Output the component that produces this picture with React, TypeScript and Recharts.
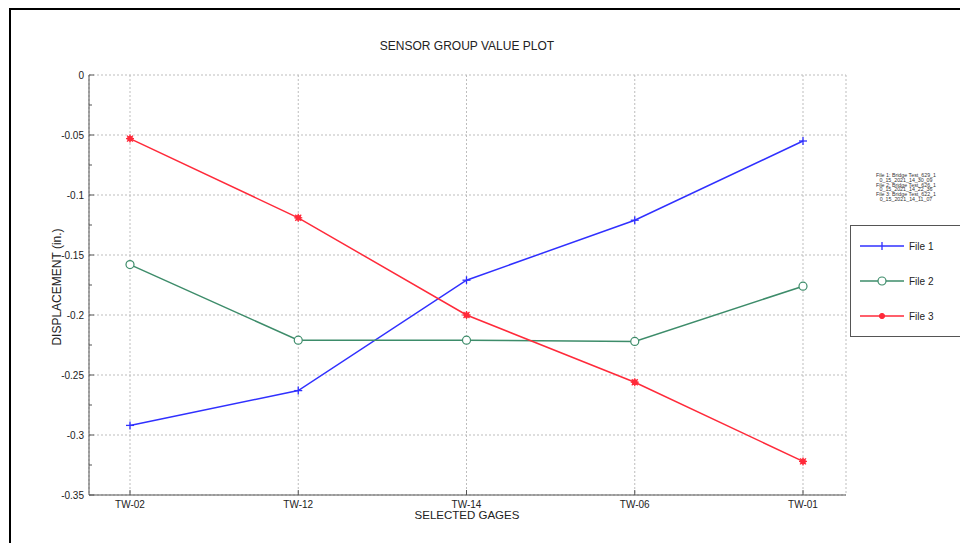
import React from 'react';
import { LineChart, Line, XAxis, YAxis, CartesianGrid } from 'recharts';

const categories = ['TW-02', 'TW-12', 'TW-14', 'TW-06', 'TW-01'];
const file1 = [-0.292, -0.263, -0.171, -0.121, -0.055];
const file2 = [-0.158, -0.221, -0.221, -0.222, -0.176];
const file3 = [-0.053, -0.119, -0.2, -0.256, -0.322];
const majorTicks = [0, -0.05, -0.1, -0.15, -0.2, -0.25, -0.3, -0.35];
const allTicks = [0, -0.025, -0.05, -0.075, -0.1, -0.125, -0.15, -0.175, -0.2, -0.225, -0.25, -0.275, -0.3, -0.325, -0.35];
const fileNotes = [
  'File 1: Bridge Test_629_1',
  '0_15_2021_14_30_09',
  'File 2: Bridge Test_626_1',
  '0_15_2021_14_22_36',
  'File 3: Bridge Test_622_1',
  '0_15_2021_14_11_07',
];
const seriesNames = ['File 1', 'File 2', 'File 3'];

const data = categories.map((c, i) => ({ name: c, file1: file1[i], file2: file2[i], file3: file3[i] }));

const BLUE = '#3030ff';
const GREEN = '#3d8c6a';
const RED = '#ff2a3a';
const AXIS = '#555';
const FONT = '"Liberation Sans", Arial, sans-serif';

const isMajor = (v: number) => majorTicks.some((m) => Math.abs(m - v) < 1e-9);

const LeftTick = (props: any) => {
  const { x, y, payload } = props;
  const major = isMajor(payload.value);
  const ax = x + 4;
  return (
    <g>
      <line x1={ax} y1={y} x2={ax + (major ? 5 : 3)} y2={y} stroke={AXIS} strokeWidth={1} />
      {major && (
        <text x={x - 1} y={y} dy={3.5} textAnchor="end" fontSize={10} fill="#222" fontFamily={FONT}>
          {String(payload.value)}
        </text>
      )}
    </g>
  );
};

const RightTick = (props: any) => {
  const { x, y, payload } = props;
  const major = isMajor(payload.value);
  return <line x1={x} y1={y} x2={x - (major ? 5 : 3)} y2={y} stroke={AXIS} strokeWidth={1} />;
};

const BottomTick = (props: any) => {
  const { x, y, payload } = props;
  return (
    <g>
      <line x1={x} y1={y - 4} x2={x} y2={y - 9} stroke={AXIS} strokeWidth={1} />
      <text x={x} y={y} dy={9} textAnchor="middle" fontSize={10} fill="#222" fontFamily={FONT}>
        {payload.value}
      </text>
    </g>
  );
};

const TopTick = (props: any) => {
  const { x, y } = props;
  return <line x1={x} y1={y} x2={x} y2={y + 5} stroke={AXIS} strokeWidth={1} />;
};

const PlusDot = (props: any) => {
  const { cx, cy } = props;
  if (cx == null || cy == null) return null;
  return (
    <g>
      <line x1={cx - 4} y1={cy} x2={cx + 4} y2={cy} stroke={BLUE} strokeWidth={1.3} />
      <line x1={cx} y1={cy - 4} x2={cx} y2={cy + 4} stroke={BLUE} strokeWidth={1.3} />
    </g>
  );
};

const CircleDot = (props: any) => {
  const { cx, cy } = props;
  if (cx == null || cy == null) return null;
  return <circle cx={cx} cy={cy} r={4} fill="white" stroke={GREEN} strokeWidth={1.2} />;
};

const StarDot = (props: any) => {
  const { cx, cy } = props;
  if (cx == null || cy == null) return null;
  return (
    <g stroke={RED} strokeWidth={1.3}>
      <line x1={cx - 4} y1={cy} x2={cx + 4} y2={cy} />
      <line x1={cx} y1={cy - 4} x2={cx} y2={cy + 4} />
      <line x1={cx - 3} y1={cy - 3} x2={cx + 3} y2={cy + 3} />
      <line x1={cx - 3} y1={cy + 3} x2={cx + 3} y2={cy - 3} />
      <circle cx={cx} cy={cy} r={2.2} fill={RED} />
    </g>
  );
};

const legendMarkers = [
  (x: number, y: number) => (
    <g>
      <line x1={x} y1={y - 4} x2={x} y2={y + 4} stroke={BLUE} strokeWidth={1.3} />
    </g>
  ),
  (x: number, y: number) => <circle cx={x} cy={y} r={4} fill="white" stroke={GREEN} strokeWidth={1.2} />,
  (x: number, y: number) => <circle cx={x} cy={y} r={2.6} fill={RED} stroke={RED} />,
];
const legendColors = [BLUE, GREEN, RED];

export default function App() {
  return (
    <div style={{ position: 'absolute', left: 0, top: 0, width: 960, height: 543, background: 'white', overflow: 'hidden', fontFamily: FONT }}>
      <div style={{ position: 'absolute', left: 9, top: 8, width: 960, height: 600, borderLeft: '2px solid #000', borderTop: '2px solid #000' }} />
      <div style={{ position: 'absolute', left: 0, top: 0 }}>
        <LineChart width={960} height={543} data={data} margin={{ top: 75, right: 114, bottom: 0, left: 0 }}>
          <CartesianGrid
            xAxisId="b"
            yAxisId="y"
            stroke="#bdbdbd"
            strokeDasharray="2 2"
            horizontalValues={majorTicks}
          />
          <XAxis
            xAxisId="b"
            dataKey="name"
            height={48}
            padding={{ left: 41, right: 43 }}
            tickSize={0}
            tickMargin={4}
            tick={<BottomTick />}
            tickLine={false}
            axisLine={{ stroke: AXIS }}
            interval={0}
          />
          <XAxis
            xAxisId="t"
            dataKey="name"
            orientation="top"
            height={0}
            padding={{ left: 41, right: 43 }}
            tickSize={0}
            tickMargin={0}
            tick={<TopTick />}
            tickLine={false}
            axisLine={{ stroke: AXIS }}
            interval={0}
          />
          <YAxis
            yAxisId="y"
            width={89}
            domain={[-0.35, 0]}
            ticks={allTicks}
            interval={0}
            tickSize={0}
            tickMargin={4}
            tick={<LeftTick />}
            tickLine={false}
            axisLine={{ stroke: AXIS }}
          />
          <YAxis
            yAxisId="r"
            orientation="right"
            width={0}
            domain={[-0.35, 0]}
            ticks={allTicks}
            interval={0}
            tickSize={0}
            tickMargin={0}
            tick={<RightTick />}
            tickLine={false}
            axisLine={{ stroke: AXIS }}
          />
          <Line xAxisId="b" yAxisId="y" type="linear" dataKey="file1" name="File 1" stroke={BLUE} strokeWidth={1.5} dot={<PlusDot />} isAnimationActive={false} />
          <Line xAxisId="b" yAxisId="y" type="linear" dataKey="file2" name="File 2" stroke={GREEN} strokeWidth={1.5} dot={<CircleDot />} isAnimationActive={false} />
          <Line xAxisId="b" yAxisId="y" type="linear" dataKey="file3" name="File 3" stroke={RED} strokeWidth={1.5} dot={<StarDot />} isAnimationActive={false} />
        </LineChart>
      </div>
      <div style={{ position: 'absolute', left: 0, top: 39, width: 934, textAlign: 'center', fontSize: 12, color: '#222' }}>
        SENSOR GROUP VALUE PLOT
      </div>
      <div style={{ position: 'absolute', left: 0, top: 509, width: 934, textAlign: 'center', fontSize: 11.5, color: '#222' }}>
        SELECTED GAGES
      </div>
      <div
        style={{
          position: 'absolute',
          left: 57,
          top: 287,
          transform: 'translate(-50%, -50%) rotate(-90deg)',
          fontSize: 12,
          color: '#222',
          whiteSpace: 'nowrap',
        }}
      >
        DISPLACEMENT (in.)
      </div>
      <div style={{ position: 'absolute', left: 860, top: 173, width: 92, textAlign: 'center', fontSize: 5.3, lineHeight: '4.8px', color: '#333' }}>
        {fileNotes.map((t, i) => (
          <div key={i}>{t}</div>
        ))}
      </div>
      <div style={{ position: 'absolute', left: 850, top: 225, width: 130, height: 110, border: '1px solid #555', background: 'white' }}>
        <svg width={130} height={110} style={{ position: 'absolute', left: 0, top: 0 }}>
          {seriesNames.map((n, i) => {
            const y = 20 + i * 35;
            return (
              <g key={n}>
                <line x1={9} y1={y} x2={53} y2={y} stroke={legendColors[i]} strokeWidth={1.5} />
                {legendMarkers[i](31, y)}
                <text x={58} y={y + 4} fontSize={10} fill="#222" fontFamily={FONT}>
                  {n}
                </text>
              </g>
            );
          })}
        </svg>
      </div>
    </div>
  );
}
